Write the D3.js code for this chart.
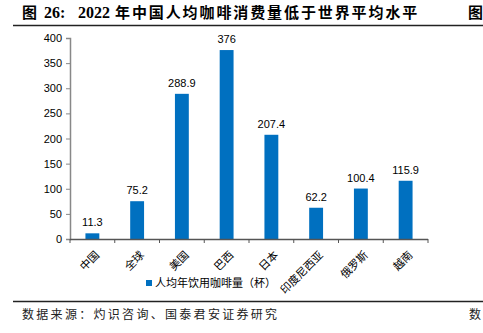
<!DOCTYPE html>
<html><head><meta charset="utf-8">
<script src="https://cdn.jsdelivr.net/npm/d3@7"></script>
<style>body{margin:0;background:#fff}svg{display:block}</style>
</head><body>
<script>
const categories = ["中国","全球","美国","巴西","日本","印度尼西亚","俄罗斯","越南"];
const values = [11.3,75.2,288.9,376,207.4,62.2,100.4,115.9];
const valueLabels = ["11.3","75.2","288.9","376","207.4","62.2","100.4","115.9"];
const yTicks = [0,50,100,150,200,250,300,350,400];
const seriesName = "人均年饮用咖啡量（杯）";
const titleA = "图 26:";
const titleB = "2022";
const titleC = "年中国人均咖啡消费量低于世界平均水平";
const source = "数据来源：灼识咨询、国泰君安证券研究";

const W=483,H=333;
const svg=d3.select("body").append("svg").attr("width",W).attr("height",H);
const cjk="'Noto Sans CJK SC','Noto Sans',sans-serif";
const lat="'Liberation Sans',Arial,sans-serif";
const serif="'Liberation Serif','Noto Sans CJK SC',serif";

const t=svg.append("text").attr("y",18).attr("font-weight","bold").attr("font-size",15).attr("fill","#000");
t.append("tspan").attr("x",22).attr("font-family",cjk).text("图");
t.append("tspan").attr("x",44).attr("font-family",serif).attr("font-size",16).text("26:");
t.append("tspan").attr("x",78).attr("font-family",serif).attr("font-size",16).text(titleB);
t.append("tspan").attr("x",115).attr("font-family",cjk).attr("letter-spacing",1.9).text(titleC);
svg.append("text").attr("x",468).attr("y",18).attr("font-family",cjk).attr("font-weight","bold")
  .attr("font-size",15).attr("fill","#000").text("图");
svg.append("line").attr("x1",13).attr("x2",W).attr("y1",25.5).attr("y2",25.5).attr("stroke","#222").attr("stroke-width",1.5);
svg.append("line").attr("x1",13).attr("x2",W).attr("y1",301.5).attr("y2",301.5).attr("stroke","#222").attr("stroke-width",1.5);
svg.append("text").attr("x",22).attr("y",319).attr("font-family",cjk).attr("font-size",12).attr("letter-spacing",2.3).attr("fill","#222").text(source);
svg.append("text").attr("x",469).attr("y",319).attr("font-family",cjk).attr("font-size",12).attr("fill","#222").text("数");

const x=d3.scaleBand().domain(categories).range([70,428]).paddingInner(0.69).paddingOuter(0.345);
const y=d3.scaleLinear().domain([0,400]).range([239,38]);

const yAx=svg.append("g").attr("transform","translate(70,0)")
  .call(d3.axisLeft(y).tickValues(yTicks).tickSize(4).tickPadding(4));
yAx.select(".domain").attr("stroke","#888").attr("stroke-width",1.5);
yAx.selectAll(".tick line").attr("stroke","#888");
yAx.selectAll("text").attr("font-family",lat).attr("font-size",11).attr("fill","#000");

svg.selectAll(".bar").data(values).join("rect").attr("class","bar")
  .attr("x",(d,i)=>x(categories[i])).attr("width",x.bandwidth())
  .attr("y",d=>y(d)).attr("height",d=>y(0)-y(d)).attr("fill","#0070c0");

svg.selectAll(".vl").data(values).join("text").attr("class","vl")
  .attr("x",(d,i)=>x(categories[i])+x.bandwidth()/2).attr("y",d=>y(d)-7)
  .attr("text-anchor","middle").attr("font-family",lat).attr("font-size",11).attr("fill","#000")
  .text((d,i)=>valueLabels[i]);

// x axis
const xa=svg.append("g");
xa.append("line").attr("x1",70).attr("x2",428).attr("y1",y(0)+0.5).attr("y2",y(0)+0.5).attr("stroke","#555").attr("stroke-width",1.5);
const bounds=d3.range(categories.length+1).map(i=>70+i*x.step());
xa.selectAll(".xt").data(bounds).join("line").attr("class","xt")
  .attr("x1",d=>d).attr("x2",d=>d).attr("y1",y(0)).attr("y2",y(0)+4).attr("stroke","#555");
xa.selectAll(".xl").data(categories).join("text").attr("class","xl")
  .attr("transform",d=>`translate(${x(d)+x.bandwidth()/2+5},${y(0)+14}) rotate(-45)`)
  .attr("text-anchor","end").attr("dy","0.35em").attr("font-family",cjk).attr("font-size",11).attr("fill","#000")
  .text(d=>d);

// legend
svg.append("rect").attr("x",146).attr("y",280).attr("width",6).attr("height",6).attr("fill","#0070c0");
svg.append("text").attr("x",155).attr("y",287).attr("font-family",cjk).attr("font-size",11).attr("fill","#000").text(seriesName);
</script>
</body></html>
